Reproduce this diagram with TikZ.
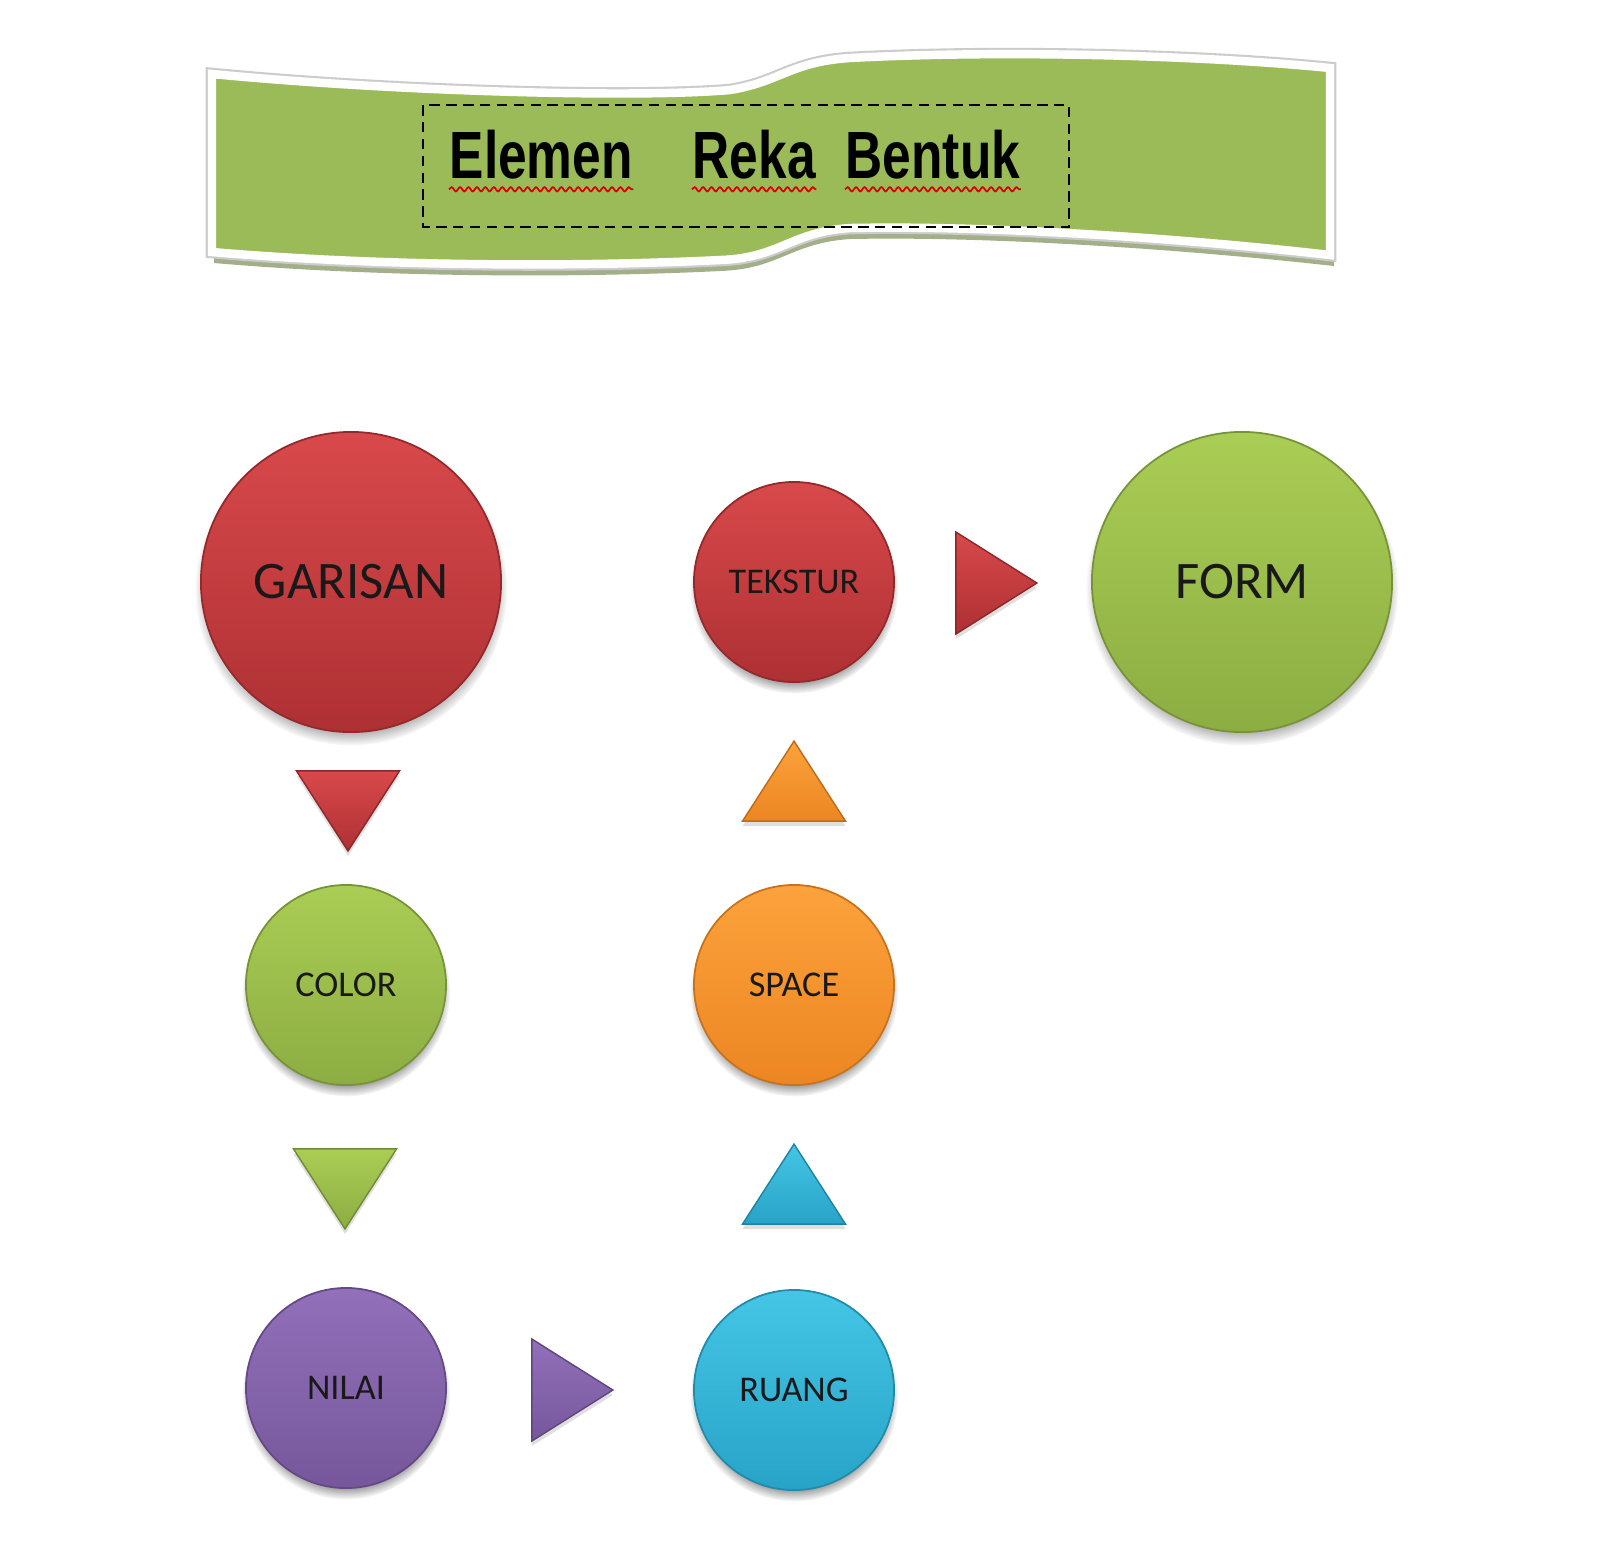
\documentclass[tikz,border=0pt]{standalone}
\usepackage{fontspec}
\setmainfont{Carlito}
\newfontfamily\titlefont{Liberation Sans}[FakeStretch=0.77]
\usetikzlibrary{shapes.geometric,shadows,decorations.pathmorphing}

\definecolor{bannergreen}{HTML}{9BBB59}
\definecolor{redtop}{HTML}{D8494B}
\definecolor{redbot}{HTML}{AE3033}
\definecolor{greentop}{HTML}{AACD55}
\definecolor{greenbot}{HTML}{8CAD42}
\definecolor{orangetop}{HTML}{FCA23C}
\definecolor{orangebot}{HTML}{EC8622}
\definecolor{bluetop}{HTML}{45C6E6}
\definecolor{bluebot}{HTML}{27A3C7}
\definecolor{purpletop}{HTML}{9270BA}
\definecolor{purplebot}{HTML}{76579B}

\begin{document}
\begin{tikzpicture}[x=0.01cm,y=-0.01cm]
  \tikzset{
    disc/.style={circle,inner sep=0pt,top color=#1top,bottom color=#1bot,
      draw=#1bot!85!black,line width=0.5pt,text=black!90,
      circular drop shadow={shadow xshift=0pt,shadow yshift=-0.07cm,shadow scale=1.04}},
    big/.style={minimum size=3.0cm,font=\fontsize{15}{18}\selectfont},
    small/.style={minimum size=2.0cm,font=\fontsize{10.3}{12}\selectfont},
    tri/.style={isosceles triangle,isosceles triangle stretches,inner sep=0pt,
      draw=#1bot!80!black,line width=0.4pt,top color=#1top,bottom color=#1bot,
      drop shadow={opacity=0.25,shadow xshift=0pt,shadow yshift=-0.05cm}},
    pointdown/.style={shape border rotate=-90,minimum height=0.80cm,minimum width=1.03cm},
    pointup/.style={shape border rotate=90,minimum height=0.80cm,minimum width=1.03cm},
    pointright/.style={shape border rotate=0,minimum height=0.81cm,minimum width=1.02cm},
    word/.style={anchor=base west,inner sep=0pt,font=\titlefont\bfseries\fontsize{19}{22}\selectfont},
    spell/.style={draw=red!85!black,line width=0.5pt,decorate,
      decoration={snake,amplitude=0.6pt,segment length=2.4pt}}
  }
  \useasboundingbox (0,0) rectangle (1600,1547);
  \fill[white] (0,0) rectangle (1600,1547);

  % banner
  \fill[black!35!bannergreen,opacity=0.6] (214,84) .. controls (400,102) and (640,108) .. (730,100)
    .. controls (780,92) and (790,72) .. (850,68) .. controls (1000,60) and (1200,65) .. (1334,78)
    -- (1334,266) .. controls (1200,251) and (1000,236) .. (850,239)
    .. controls (790,243) and (780,269) .. (720,271) .. controls (600,277) and (400,279) .. (214,263) -- cycle;
  \draw[black!20,line width=3.6pt] (212,74) .. controls (400,92) and (640,98) .. (730,90)
    .. controls (780,82) and (790,62) .. (850,58) .. controls (1000,50) and (1200,55) .. (1330,68)
    -- (1330,255) .. controls (1200,240) and (1000,225) .. (850,228)
    .. controls (790,232) and (780,258) .. (720,260) .. controls (600,266) and (400,268) .. (212,252) -- cycle;
  \filldraw[fill=bannergreen,draw=white,line width=2.4pt] (212,74) .. controls (400,92) and (640,98) .. (730,90)
    .. controls (780,82) and (790,62) .. (850,58) .. controls (1000,50) and (1200,55) .. (1330,68)
    -- (1330,255) .. controls (1200,240) and (1000,225) .. (850,228)
    .. controls (790,232) and (780,258) .. (720,260) .. controls (600,266) and (400,268) .. (212,252) -- cycle;
  \draw[line width=0.7pt,dash pattern=on 3pt off 1.8pt] (423,105) rectangle (1069,227);
  \node[word] (w1) at (449,178) {Elemen};
  \node[word] (w2) at (692,178) {Reka};
  \node[word] (w3) at (845,178) {Bentuk};
  \draw[spell] ([yshift=-3.2pt]w1.base west) -- ([yshift=-3.2pt]w1.base east);
  \draw[spell] ([yshift=-3.2pt]w2.base west) -- ([yshift=-3.2pt]w2.base east);
  \draw[spell] ([yshift=-3.2pt]w3.base west) -- ([yshift=-3.2pt]w3.base east);

  % circles
  \node[disc=red,big] (garisan) at (351,582) {GARISAN};
  \node[disc=red,small] (tekstur) at (794,582) {TEKSTUR};
  \node[disc=green,big] (form) at (1242,582) {FORM};
  \node[disc=green,small] (color) at (346,985) {COLOR};
  \node[disc=orange,small] (space) at (794,985) {SPACE};
  \node[disc=purple,small] (nilai) at (346,1388) {NILAI};
  \node[disc=blue,small] (ruang) at (794,1390) {RUANG};

  % triangle arrows
  \node[tri=red,pointdown] (garisan-color) at (348,799) {};
  \node[tri=green,pointdown] (color-nilai) at (345,1177) {};
  \node[tri=purple,pointright] (nilai-ruang) at (560,1390) {};
  \node[tri=blue,pointup] (ruang-space) at (794,1196) {};
  \node[tri=orange,pointup] (space-tekstur) at (794,793) {};
  \node[tri=red,pointright] (tekstur-form) at (984,583) {};
\end{tikzpicture}
\end{document}
